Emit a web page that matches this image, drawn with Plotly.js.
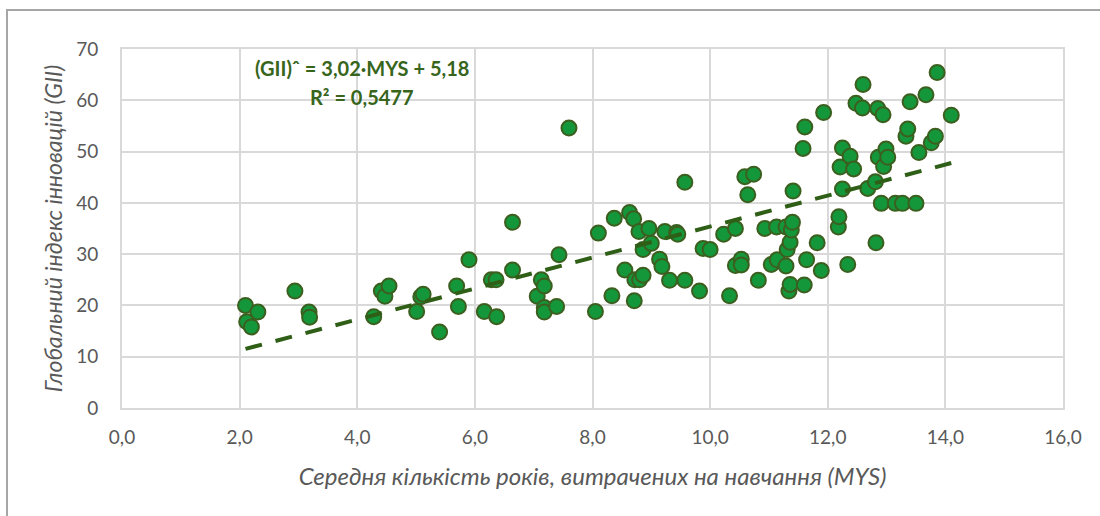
<!DOCTYPE html>
<html>
<head>
<meta charset="utf-8">
<script src="https://cdn.plot.ly/plotly-3.0.1.min.js"></script>
<style>
  html, body { margin: 0; padding: 0; background: #ffffff; }
  #wrap { position: relative; width: 1100px; height: 516px; }
  #chart { position: absolute; left: 0; top: 0; width: 1100px; height: 516px; }
  #frame { position: absolute; left: 6px; top: 9px; width: 1094px; height: 507px;
           border-left: 2px solid #a6a6a6; border-top: 2px solid #a6a6a6; pointer-events: none; }
</style>
</head>
<body>
<div id="wrap">
  <div id="chart"></div>
  <div id="frame"></div>
</div>
<script>
// Mean years of schooling (MYS)
const mys = [
  2.10, 2.12, 2.20, 2.31, 2.94, 3.18, 3.19, 4.28, 4.41, 4.47,
  4.54, 5.01, 5.08, 5.12, 5.40, 5.69, 5.72, 5.90, 6.16, 6.28,
  6.36, 6.37, 6.64, 6.64, 7.06, 7.13, 7.18, 7.18, 7.18, 7.39,
  7.43, 7.60, 8.05, 8.10, 8.33, 8.37, 8.55, 8.63, 8.70, 8.71,
  8.72, 8.79, 8.80, 8.86, 8.86, 8.96, 9.00, 9.14, 9.18, 9.23,
  9.31, 9.43, 9.45, 9.57, 9.57, 9.82, 9.88, 10.00, 10.23, 10.33,
  10.43, 10.43, 10.53, 10.53, 10.59, 10.64, 10.74, 10.82, 10.93, 11.04,
  11.13, 11.14, 11.29, 11.29, 11.31, 11.34, 11.36, 11.36, 11.38, 11.40,
  11.41, 11.58, 11.60, 11.61, 11.64, 11.82, 11.89, 11.93, 12.18, 12.19,
  12.21, 12.25, 12.25, 12.34, 12.38, 12.44, 12.48, 12.59, 12.60, 12.68,
  12.81, 12.82, 12.85, 12.86, 12.91, 12.94, 12.95, 12.99, 13.02, 13.15,
  13.27, 13.33, 13.36, 13.40, 13.50, 13.55, 13.67, 13.76, 13.83, 13.86,
  14.10
];
// Global Innovation Index (GII)
const gii = [
  20.0, 16.8, 15.8, 18.7, 22.8, 18.7, 17.7, 17.8, 22.8, 21.8,
  23.8, 18.8, 21.7, 22.2, 14.8, 23.8, 19.8, 28.9, 18.8, 25.0,
  25.0, 17.8, 36.2, 26.9, 21.8, 25.0, 23.8, 19.6, 18.7, 19.8,
  29.9, 54.6, 18.8, 34.1, 21.9, 37.0, 26.9, 38.1, 36.9, 20.9,
  25.0, 34.4, 25.0, 25.9, 30.9, 35.0, 32.1, 29.0, 27.6, 34.4,
  24.9, 34.2, 33.9, 44.0, 24.9, 22.8, 31.1, 30.9, 33.9, 21.9,
  27.8, 35.0, 29.0, 27.9, 45.1, 41.6, 45.6, 24.9, 35.0, 28.0,
  35.3, 28.9, 27.7, 35.3, 30.9, 22.8, 24.1, 32.3, 34.7, 36.2,
  42.3, 50.6, 24.0, 54.8, 28.9, 32.2, 26.8, 57.6, 35.3, 37.3,
  47.0, 42.7, 50.7, 28.0, 49.1, 46.6, 59.4, 58.5, 63.1, 42.8,
  44.1, 32.2, 58.4, 48.9, 39.9, 57.2, 47.1, 50.5, 48.9, 39.9,
  39.9, 53.0, 54.4, 59.7, 39.9, 49.8, 61.1, 51.7, 53.0, 65.4,
  57.1
];
// Trendline as given in the chart: GII = 3,02·MYS + 5,18
const slope = 3.02;
const intercept = 5.18;
const r2Text = "R² = 0,5477";
const eqText = "(GII)ˆ = 3,02·MYS + 5,18";
const xTitle = "Середня кількість років, витрачених на навчання (MYS)";
const yTitle = "Глобальний індекс інновацій (GII)";

const xMin = Math.min(...mys), xMax = Math.max(...mys);
const trendX = [xMin, xMax];
const trendY = trendX.map(v => slope * v + intercept);

const font = "Lato, 'Open Sans', 'Liberation Sans', sans-serif";
const grid = "#d9d9d9";

const traces = [
  {
    x: mys, y: gii, type: "scatter", mode: "markers",
    marker: { size: 15, color: "#14963a", line: { color: "#3c5f1f", width: 2 } },
    hoverinfo: "x+y", showlegend: false
  },
  {
    x: trendX, y: trendY, type: "scatter", mode: "lines",
    line: { color: "#2f5e16", width: 4, dash: "17px,14px" },
    hoverinfo: "skip", showlegend: false
  }
];

const layout = {
  width: 1100, height: 516,
  margin: { l: 122, r: 37, t: 49, b: 108 },
  paper_bgcolor: "#ffffff", plot_bgcolor: "#ffffff",
  separators: ", ",
  font: { family: font, color: "#595959" },
  xaxis: {
    range: [0, 16], dtick: 2, tick0: 0, tickformat: ".1f",
    showgrid: true, gridcolor: grid, gridwidth: 2,
    zeroline: false, showline: true, mirror: true, linecolor: grid, linewidth: 2,
    ticks: "", ticklabelstandoff: 11,
    tickfont: { size: 19, color: "#595959", family: font },
    title: { text: xTitle, standoff: 21, font: { size: 24, color: "#595959", family: font, style: "italic" } },
    automargin: false
  },
  yaxis: {
    range: [0, 70], dtick: 10, tick0: 0,
    showgrid: true, gridcolor: grid, gridwidth: 2,
    zeroline: false, showline: true, mirror: true, linecolor: grid, linewidth: 2,
    ticks: "", ticklabelstandoff: 18,
    tickfont: { size: 19, color: "#595959", family: font },
    title: { text: yTitle, standoff: 7, font: { size: 23, color: "#595959", family: font, style: "italic" } },
    automargin: false
  },
  annotations: [
    { x: 4.08, y: 66.3, xref: "x", yref: "y", text: "<b>" + eqText + "</b>", showarrow: false,
      font: { size: 20, color: "#37651b", family: font }, xanchor: "center", yanchor: "middle" },
    { x: 4.08, y: 60.6, xref: "x", yref: "y", text: "<b>" + r2Text + "</b>", showarrow: false,
      font: { size: 20, color: "#37651b", family: font }, xanchor: "center", yanchor: "middle" }
  ]
};

Plotly.newPlot("chart", traces, layout, { displayModeBar: false, staticPlot: true });
</script>
</body>
</html>
